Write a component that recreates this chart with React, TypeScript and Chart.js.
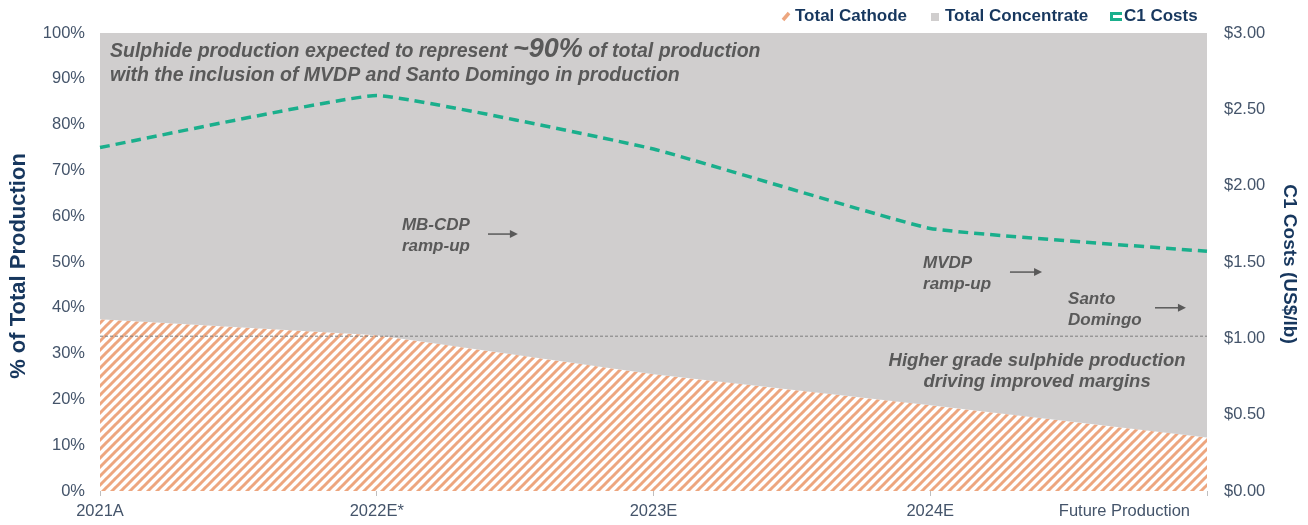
import React, { useEffect, useRef } from "react";
import { Chart, registerables } from "chart.js";

Chart.register(...registerables);

// ---------- data ----------
const categories = ["2021A", "2022E*", "2023E", "2024E", "Future Production"];
const cathodeShare = [37.5, 34.0, 25.5, 18.7, 11.7];
const concentrateShare = [62.5, 66.0, 74.5, 81.3, 88.3];
const c1Costs = [2.25, 2.59, 2.24, 1.72, 1.57];
const referenceLevel = [33.8, 33.8, 33.8, 33.8, 33.8];
const legendLabels = ["Total Cathode", "Total Concentrate", "C1 Costs"];
const leftAxisTitle = "% of Total Production";
const rightAxisTitle = "C1 Costs (US$/lb)";
const headlineParts = ["Sulphide production expected to represent ", "~90%", " of total production"];
const headlineLine2 = "with the inclusion of MVDP and Santo Domingo in production";

// annotation notes: [category position, % value, lines]
const notes: { cx: number; v: number; lines: string[]; align: CanvasTextAlign; size: number }[] = [
  { cx: 1.091, v: 58.0, lines: ["MB-CDP", "ramp-up"], align: "left", size: 17 },
  { cx: 2.974, v: 49.8, lines: ["MVDP", "ramp-up"], align: "left", size: 17 },
  { cx: 3.498, v: 41.9, lines: ["Santo", "Domingo"], align: "left", size: 17 },
  { cx: 3.386, v: 28.4, lines: ["Higher grade sulphide production", "driving improved margins"], align: "center", size: 18.5 },
];
const arrows: { from: number; to: number; v: number }[] = [
  { from: 1.402, to: 1.51, v: 56.1 },
  { from: 3.288, to: 3.404, v: 47.8 },
  { from: 3.812, to: 3.924, v: 40.0 },
];

// ---------- styles ----------
const FONT = "'Liberation Sans', Arial, sans-serif";
const ORANGE = "#EDA67F";
const GREY_FILL = "#D0CECE";
const TEAL = "#1AAF8C";
const TICK_COLOR = "#44546A";
const TITLE_COLOR = "#17375E";
const NOTE_COLOR = "#595959";

function makeHatch(): CanvasPattern | string {
  const c = document.createElement("canvas");
  const s = 9;
  c.width = s;
  c.height = s;
  const g = c.getContext("2d");
  if (!g) return ORANGE;
  g.fillStyle = "#ffffff";
  g.fillRect(0, 0, s, s);
  g.strokeStyle = ORANGE;
  g.lineWidth = 3;
  g.lineCap = "square";
  const seg = (x1: number, y1: number, x2: number, y2: number) => {
    g.beginPath();
    g.moveTo(x1, y1);
    g.lineTo(x2, y2);
    g.stroke();
  };
  seg(-1, s + 1, s + 1, -1);
  seg(-s - 1, s + 1, 1, -1);
  seg(s - 1, s + 1, 2 * s + 1, -1);
  const p = g.createPattern(c, "repeat");
  return p || ORANGE;
}

const overlayPlugin = {
  id: "overlay",
  afterDraw(chart: any) {
    const ctx: CanvasRenderingContext2D = chart.ctx;
    const xs = chart.scales.x;
    const ys = chart.scales.y;
    ctx.save();

    // x-axis labels
    ctx.font = `16.5px ${FONT}`;
    ctx.fillStyle = TICK_COLOR;
    ctx.textBaseline = "middle";
    categories.forEach((lab, i) => {
      const px = xs.getPixelForValue(i);
      if (i === categories.length - 1) {
        ctx.textAlign = "right";
        ctx.fillText(lab, px - 17, 511);
      } else {
        ctx.textAlign = "center";
        ctx.fillText(lab, px, 511);
      }
    });

    // axis titles
    ctx.fillStyle = TITLE_COLOR;
    ctx.textAlign = "center";
    ctx.textBaseline = "middle";
    ctx.save();
    ctx.translate(19, 266);
    ctx.rotate(-Math.PI / 2);
    ctx.font = `bold 22px ${FONT}`;
    ctx.fillText(leftAxisTitle, 0, 0);
    ctx.restore();
    ctx.save();
    ctx.translate(1289, 264);
    ctx.rotate(Math.PI / 2);
    ctx.font = `bold 19px ${FONT}`;
    ctx.fillText(rightAxisTitle, 0, 0);
    ctx.restore();

    // headline
    const hx = xs.getPixelForValue(0.036);
    let cur = hx;
    ctx.fillStyle = NOTE_COLOR;
    ctx.textAlign = "left";
    ctx.textBaseline = "alphabetic";
    const y1 = ys.getPixelForValue(96.3) + 7;
    headlineParts.forEach((t, i) => {
      ctx.font = i === 1 ? `italic bold 27px ${FONT}` : `italic bold 19.5px ${FONT}`;
      ctx.fillText(t, cur, y1);
      cur += ctx.measureText(t).width;
    });
    ctx.font = `italic bold 19.5px ${FONT}`;
    ctx.fillText(headlineLine2, hx, ys.getPixelForValue(91.0) + 7);

    // notes
    ctx.textBaseline = "middle";
    notes.forEach((n) => {
      ctx.font = `italic bold ${n.size}px ${FONT}`;
      const px = xs.getPixelForValue(n.cx);
      const py = ys.getPixelForValue(n.v);
      ctx.textAlign = n.align;
      n.lines.forEach((l, k) => ctx.fillText(l, px, py + k * 21));
    });

    // arrows
    ctx.strokeStyle = NOTE_COLOR;
    ctx.fillStyle = NOTE_COLOR;
    ctx.lineWidth = 1.5;
    arrows.forEach((a) => {
      const x1 = xs.getPixelForValue(a.from);
      const x2 = xs.getPixelForValue(a.to);
      const py = ys.getPixelForValue(a.v);
      ctx.beginPath();
      ctx.moveTo(x1, py);
      ctx.lineTo(x2 - 6, py);
      ctx.stroke();
      ctx.beginPath();
      ctx.moveTo(x2, py);
      ctx.lineTo(x2 - 8, py - 4);
      ctx.lineTo(x2 - 8, py + 4);
      ctx.closePath();
      ctx.fill();
    });

    // legend
    ctx.font = `bold 17px ${FONT}`;
    ctx.textAlign = "left";
    ctx.textBaseline = "middle";
    const ly = 16;
    // cathode icon
    ctx.strokeStyle = ORANGE;
    ctx.lineWidth = 3.5;
    ctx.beginPath();
    ctx.moveTo(783, 20);
    ctx.lineTo(789, 13);
    ctx.stroke();
    ctx.fillStyle = TITLE_COLOR;
    ctx.fillText(legendLabels[0], 795, ly);
    // concentrate icon
    ctx.fillStyle = GREY_FILL;
    ctx.fillRect(931, 13, 8, 8);
    ctx.fillStyle = TITLE_COLOR;
    ctx.fillText(legendLabels[1], 945, ly);
    // C1 icon
    ctx.strokeStyle = TEAL;
    ctx.lineWidth = 3;
    ctx.beginPath();
    ctx.moveTo(1122, 13.5);
    ctx.lineTo(1111.5, 13.5);
    ctx.lineTo(1111.5, 19.5);
    ctx.lineTo(1122, 19.5);
    ctx.stroke();
    ctx.fillStyle = TITLE_COLOR;
    ctx.fillText(legendLabels[2], 1124, ly);

    ctx.restore();
  },
};

export default function App() {
  const ref = useRef<HTMLCanvasElement | null>(null);

  useEffect(() => {
    if (!ref.current) return;
    const hatch = makeHatch();
    const totals = cathodeShare.map((v, i) => v + concentrateShare[i]);
    const chart = new Chart(ref.current, {
      type: "line",
      data: {
        labels: categories,
        datasets: [
          {
            label: "C1 Costs",
            data: c1Costs,
            yAxisID: "y1",
            borderColor: TEAL,
            borderWidth: 3.5,
            borderDash: [10, 6],
            pointRadius: 0,
            tension: 0.1,
            fill: false,
            order: 0,
          },
          {
            label: "ref",
            data: referenceLevel,
            yAxisID: "y",
            borderColor: "#7F7F7F",
            borderWidth: 1,
            borderDash: [3, 2],
            pointRadius: 0,
            fill: false,
            order: 1,
          },
          {
            label: "Total Concentrate",
            data: totals,
            yAxisID: "y",
            borderWidth: 0,
            borderColor: "rgba(0,0,0,0)",
            backgroundColor: GREY_FILL,
            pointRadius: 0,
            fill: 3,
            order: 2,
          },
          {
            label: "Total Cathode",
            data: cathodeShare,
            yAxisID: "y",
            borderWidth: 0,
            borderColor: "rgba(0,0,0,0)",
            backgroundColor: hatch as any,
            pointRadius: 0,
            fill: "origin",
            order: 3,
          },
        ],
      },
      options: {
        animation: false,
        responsive: false,
        events: [],
        layout: { padding: { top: 33, left: 0, right: 0, bottom: 0 } },
        plugins: { legend: { display: false }, tooltip: { enabled: false } },
        scales: {
          x: {
            type: "category",
            offset: false,
            border: { display: false },
            grid: { display: true, drawOnChartArea: false, drawTicks: true, tickLength: 5, color: "#BFBFBF" },
            ticks: { display: false },
            afterFit: (s: any) => {
              s.height = 34;
            },
          },
          y: {
            position: "left",
            min: 0,
            max: 100,
            border: { display: false },
            grid: { display: false, drawTicks: false },
            ticks: {
              stepSize: 10,
              padding: 15,
              color: TICK_COLOR,
              font: { family: FONT, size: 16.5 },
              callback: (v: any) => `${v}%`,
            },
            afterFit: (s: any) => {
              s.width = 100;
            },
          },
          y1: {
            position: "right",
            min: 0,
            max: 3,
            border: { display: false },
            grid: { display: false, drawTicks: false },
            ticks: {
              stepSize: 0.5,
              padding: 17,
              color: TICK_COLOR,
              font: { family: FONT, size: 16.5 },
              callback: (v: any) => `$${Number(v).toFixed(2)}`,
            },
            afterFit: (s: any) => {
              s.width = 101;
            },
          },
        },
      },
      plugins: [overlayPlugin],
    });
    return () => chart.destroy();
  }, []);

  return (
    <div style={{ position: "fixed", left: 0, top: 0, width: 1308, height: 525, background: "#fff" }}>
      <canvas ref={ref} width={1308} height={525} style={{ display: "block" }} />
    </div>
  );
}
